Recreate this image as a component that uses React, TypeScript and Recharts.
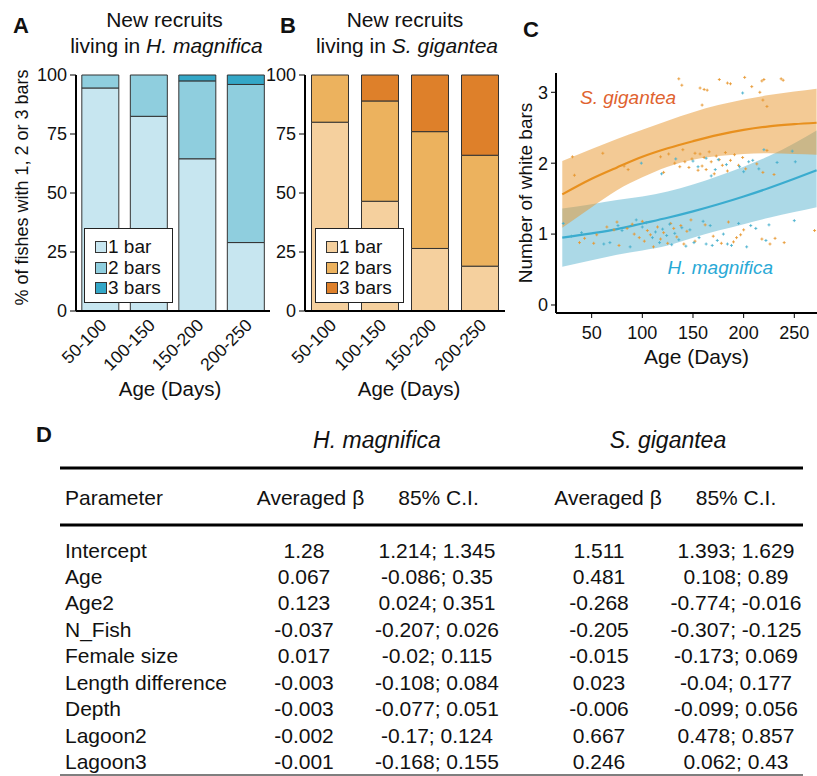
import React from "react";
import {
  BarChart,
  Bar,
  XAxis,
  YAxis,
  Legend,
  ComposedChart,
  Area,
  Line,
  Scatter,
} from "recharts";

// panels A and B: share of recruits with 1, 2 or 3 bars per age group
const ageGroups = ["50-100", "100-150", "150-200", "200-250"];
const hmOneBar = [94.5, 82.5, 64.5, 29];
const hmTwoBars = [5.5, 17.5, 33, 67];
const hmThreeBars = [0, 0, 2.5, 4];
const sgOneBar = [80, 46.5, 26.5, 19];
const sgTwoBars = [20, 42.5, 49.5, 47];
const sgThreeBars = [0, 11, 24, 34];
const percentTicks = [0, 25, 50, 75, 100];
const barLabels = ["1 bar", "2 bars", "3 bars"];

// panel C: fitted curves with 85% bands
const curveDays = [21, 50, 75, 100, 125, 150, 175, 200, 225, 250, 272];
const hmFit = [0.95, 1.01, 1.07, 1.15, 1.23, 1.32, 1.42, 1.53, 1.65, 1.78, 1.9];
const hmLower = [0.54, 0.63, 0.71, 0.77, 0.84, 0.95, 1.05, 1.14, 1.23, 1.31, 1.38];
const hmUpper = [1.36, 1.42, 1.48, 1.53, 1.6, 1.7, 1.82, 1.95, 2.1, 2.28, 2.46];
const sgFit = [1.56, 1.78, 1.94, 2.09, 2.21, 2.31, 2.4, 2.47, 2.52, 2.55, 2.57];
const sgLower = [1.09, 1.38, 1.62, 1.8, 1.95, 2.05, 2.1, 2.13, 2.14, 2.13, 2.12];
const sgUpper = [2.03, 2.2, 2.34, 2.47, 2.6, 2.72, 2.82, 2.9, 2.96, 3.01, 3.05];
const ageTicks = [50, 100, 150, 200, 250];
const barCountTicks = [0, 1, 2, 3];

// jittered observations [age, number of bars]
const sgPoints = [
  [136, 3.19], [139, 3.1], [157, 3.06], [161, 3.04], [164, 3.03], [176, 3.18],
  [184, 3.13], [187, 3.12], [201, 3.21], [208, 3.08], [216, 3.0], [218, 3.16],
  [220, 3.18], [237, 3.19], [239, 3.17], [219, 2.89], [223, 2.8], [159, 2.82],
  [31, 2.09], [33, 1.83], [61, 2.14], [82, 1.96], [86, 1.91], [118, 2.09],
  [121, 1.87], [126, 2.13], [132, 2.0], [137, 1.95], [140, 2.19], [142, 2.02],
  [146, 1.94], [149, 2.06], [152, 2.14], [155, 1.9], [157, 2.13], [159, 1.96],
  [161, 2.08], [163, 1.91], [166, 2.16], [168, 2.02], [171, 1.85], [173, 2.1],
  [176, 2.05], [179, 1.97], [182, 2.15], [184, 1.89], [187, 2.04], [191, 2.12],
  [195, 1.97], [199, 2.08], [202, 1.92], [213, 1.99], [219, 1.87], [223, 2.18],
  [230, 1.84],
  [38, 0.88], [43, 0.94], [52, 0.87], [55, 0.99], [65, 1.1], [72, 1.06],
  [75, 1.17], [77, 0.84], [85, 1.08], [90, 1.14], [92, 1.0], [97, 0.95],
  [100, 1.18], [102, 0.9], [105, 1.05], [108, 0.99], [111, 0.82], [115, 1.1],
  [118, 0.93], [121, 1.02], [125, 0.87], [128, 1.15], [131, 1.08], [134, 0.96],
  [138, 1.12], [141, 0.86], [144, 1.04], [148, 1.2], [152, 0.9], [162, 1.13],
  [170, 0.97], [178, 0.87], [185, 1.17], [190, 0.89], [193, 0.95], [197, 0.99],
  [200, 1.06], [218, 0.93], [226, 0.86], [231, 0.94], [240, 0.88], [270, 1.05],
];
const hmPoints = [
  [199, 2.99],
  [99, 2.0], [119, 1.85], [133, 2.06], [150, 2.03], [155, 1.95], [163, 2.07],
  [168, 1.82], [172, 1.91], [175, 2.05], [183, 1.98], [196, 1.95], [200, 1.88],
  [205, 2.02], [209, 2.04], [215, 1.92], [220, 2.19], [233, 2.01], [248, 2.17],
  [251, 2.02],
  [22, 1.15], [30, 0.97], [40, 1.02], [62, 0.86], [68, 0.88], [76, 1.12],
  [80, 1.05], [88, 0.82], [94, 1.2], [100, 1.1], [104, 1.16], [110, 0.95],
  [113, 1.03], [117, 0.88], [120, 1.07], [124, 0.98], [127, 1.14], [129, 0.85],
  [132, 1.01], [136, 0.92], [139, 1.09], [143, 0.83], [147, 1.06], [151, 0.88],
  [156, 0.95], [160, 1.18], [163, 0.86], [167, 1.12], [169, 0.84], [174, 0.91],
  [180, 1.0], [184, 0.86], [188, 0.84], [195, 1.15], [203, 0.82], [207, 1.12],
  [212, 1.08], [222, 0.91], [225, 1.13], [250, 1.19],
];

// panel D: model-averaged coefficients
const parameters = [
  "Intercept", "Age", "Age2", "N_Fish", "Female size",
  "Length difference", "Depth", "Lagoon2", "Lagoon3",
];
const hmBeta = ["1.28", "0.067", "0.123", "-0.037", "0.017", "-0.003", "-0.003", "-0.002", "-0.001"];
const hmCI = [
  "1.214; 1.345", "-0.086; 0.35", "0.024; 0.351", "-0.207; 0.026", "-0.02; 0.115",
  "-0.108; 0.084", "-0.077; 0.051", "-0.17; 0.124", "-0.168; 0.155",
];
const sgBeta = ["1.511", "0.481", "-0.268", "-0.205", "-0.015", "0.023", "-0.006", "0.667", "0.246"];
const sgCI = [
  "1.393; 1.629", "0.108; 0.89", "-0.774; -0.016", "-0.307; -0.125", "-0.173; 0.069",
  "-0.04; 0.177", "-0.099; 0.056", "0.478; 0.857", "0.062; 0.43",
];

const FONT = '"Liberation Sans", Arial, Helvetica, sans-serif';
const blues = ["#c7e6f0", "#8fcede", "#34a7c7"];
const oranges = ["#f5d09e", "#ecb25e", "#de802a"];

function LegendBox({ colors }: { colors: string[] }) {
  return (
    <div
      style={{
        width: 89,
        height: 75,
        boxSizing: "border-box",
        border: "1px solid #222",
        background: "#fff",
        padding: "8px 0 0 10px",
        fontSize: 19,
        color: "#111",
        textAlign: "left",
      }}
    >
      {barLabels.map((l, i) => (
        <div key={l} style={{ display: "flex", alignItems: "center", height: 20.5 }}>
          <span
            style={{
              display: "inline-block",
              width: 12,
              height: 12,
              boxSizing: "border-box",
              background: colors[i],
              border: "1px solid #333",
              marginRight: 1,
            }}
          />
          {l}
        </div>
      ))}
    </div>
  );
}

function StackedPanel({
  left,
  yWidth,
  plotWidth,
  gap,
  ones,
  twos,
  threes,
  colors,
  legendLeft,
}: {
  left: number;
  yWidth: number;
  plotWidth: number;
  gap: string;
  ones: number[];
  twos: number[];
  threes: number[];
  colors: string[];
  legendLeft: number;
}) {
  const data = ageGroups.map((g, i) => ({
    group: g,
    one: ones[i],
    two: twos[i],
    three: threes[i],
  }));
  const top = 60;
  return (
    <div style={{ position: "absolute", left, top }}>
      <BarChart
        width={yWidth + plotWidth}
        height={331}
        data={data}
        margin={{ top: 15, right: 0, left: 0, bottom: 0 }}
        barCategoryGap={gap}
      >
        <YAxis
          width={yWidth}
          domain={[0, 100]}
          ticks={percentTicks}
          tick={{ fontSize: 18, fill: "#111" }}
          axisLine={{ stroke: "#000", strokeWidth: 2 }}
          tickLine={{ stroke: "#000" }}
          tickSize={6}
          tickMargin={3}
        />
        <XAxis
          dataKey="group"
          height={80}
          tick={{ angle: -45, textAnchor: "end", fontSize: 17.5, fill: "#111", dx: -1.5, dy: 6.5 }}
          tickLine={false}
          tickSize={0}
          tickMargin={0}
          interval={0}
          axisLine={{ stroke: "#000", strokeWidth: 2 }}
        />
        <Legend
          verticalAlign="middle"
          align="center"
          content={() => <LegendBox colors={colors} />}
          wrapperStyle={{ left: legendLeft - left, top: 228 - top, width: 89 }}
        />
        <Bar dataKey="one" stackId="s" fill={colors[0]} stroke="#333" strokeWidth={1} isAnimationActive={false} />
        <Bar dataKey="two" stackId="s" fill={colors[1]} stroke="#333" strokeWidth={1} isAnimationActive={false} />
        <Bar dataKey="three" stackId="s" fill={colors[2]} stroke="#333" strokeWidth={1} isAnimationActive={false} />
      </BarChart>
    </div>
  );
}

function crossShape(color: string) {
  return (props: any) => {
    const { cx, cy } = props;
    return (
      <path
        d={`M${cx - 1.5},${cy}h3M${cx},${cy - 1.5}v3`}
        stroke={color}
        strokeWidth={1}
        strokeOpacity={0.85}
      />
    );
  };
}

function CurvePanel() {
  const data = curveDays.map((d, i) => ({
    day: d,
    hmFit: hmFit[i],
    hmBand: [hmLower[i], hmUpper[i]],
    sgFit: sgFit[i],
    sgBand: [sgLower[i], sgUpper[i]],
  }));
  const sgScatter = sgPoints.map(([day, bars]) => ({ day, bars }));
  const hmScatter = hmPoints.map(([day, bars]) => ({ day, bars }));
  return (
    <div style={{ position: "absolute", left: 500, top: 60 }}>
      <ComposedChart
        width={317}
        height={313}
        data={data}
        margin={{ top: 13, right: 0, left: 0, bottom: 0 }}
      >
        <XAxis
          type="number"
          dataKey="day"
          domain={[14.8, 272.4]}
          allowDataOverflow
          ticks={ageTicks}
          height={60}
          tick={{ fontSize: 18, fill: "#111" }}
          axisLine={{ stroke: "#000", strokeWidth: 2 }}
          tickLine={{ stroke: "#000" }}
          tickSize={5}
          tickMargin={8}
        />
        <YAxis
          type="number"
          width={56}
          domain={[-0.113, 3.272]}
          allowDataOverflow
          ticks={barCountTicks}
          tick={{ fontSize: 18, fill: "#111" }}
          axisLine={{ stroke: "#000", strokeWidth: 2 }}
          tickLine={{ stroke: "#000" }}
          tickSize={5}
          tickMargin={3}
        />
        <Area
          type="monotone"
          dataKey="hmBand"
          fill="#5ab4d0"
          fillOpacity={0.5}
          stroke="none"
          isAnimationActive={false}
        />
        <Area
          type="monotone"
          dataKey="sgBand"
          fill="#e8952c"
          fillOpacity={0.5}
          stroke="none"
          isAnimationActive={false}
        />
        <Scatter data={sgScatter} dataKey="bars" shape={crossShape("#e8962f")} isAnimationActive={false} />
        <Scatter data={hmScatter} dataKey="bars" shape={crossShape("#45afcd")} isAnimationActive={false} />
        <Line type="monotone" dataKey="hmFit" stroke="#3aaccf" strokeWidth={2.2} dot={false} isAnimationActive={false} />
        <Line type="monotone" dataKey="sgFit" stroke="#e8901e" strokeWidth={2.2} dot={false} isAnimationActive={false} />
      </ComposedChart>
    </div>
  );
}

function Annotations() {
  const rowY = (i: number) => 550 + i * 26.46;
  return (
    <svg
      width={817}
      height={776}
      style={{ position: "absolute", left: 0, top: 0 }}
      fontFamily={FONT}
      fill="#111"
    >
      {/* panel letters */}
      <text x={13} y={32.5} fontSize={22} fontWeight="bold">A</text>
      <text x={280} y={33} fontSize={22} fontWeight="bold">B</text>
      <text x={523} y={36.5} fontSize={22} fontWeight="bold">C</text>
      <text x={36} y={441.5} fontSize={22} fontWeight="bold">D</text>

      {/* titles */}
      <text x={164.5} y={26.5} fontSize={21} textAnchor="middle">New recruits</text>
      <text x={166.5} y={52.5} fontSize={21} textAnchor="middle">
        living in <tspan fontStyle="italic">H. magnifica</tspan>
      </text>
      <text x={405} y={26.5} fontSize={21} textAnchor="middle">New recruits</text>
      <text x={407} y={52.5} fontSize={21} textAnchor="middle">
        living in <tspan fontStyle="italic">S. gigantea</tspan>
      </text>

      {/* axis titles */}
      <text
        x={21.5}
        y={187.5}
        fontSize={18}
        textAnchor="middle"
        dominantBaseline="central"
        transform="rotate(-90, 21.5, 187.5)"
      >
        % of fishes with 1, 2 or 3 bars
      </text>
      <text x={170} y={396} fontSize={20.5} textAnchor="middle">Age (Days)</text>
      <text x={409} y={396} fontSize={20.5} textAnchor="middle">Age (Days)</text>
      <text x={696.5} y={364} fontSize={21} textAnchor="middle">Age (Days)</text>
      <text
        x={525}
        y={193}
        fontSize={19}
        textAnchor="middle"
        dominantBaseline="central"
        transform="rotate(-90, 525, 193)"
      >
        Number of white bars
      </text>

      {/* species labels in C */}
      <text x={580} y={97} fontSize={19} fontStyle="italic" fill="#e0622e" dominantBaseline="central">
        S. gigantea
      </text>
      <text x={667.5} y={267} fontSize={19} fontStyle="italic" fill="#29a9d6" dominantBaseline="central">
        H. magnifica
      </text>

      {/* table D */}
      <text x={377} y={440} fontSize={23} fontStyle="italic" textAnchor="middle" dominantBaseline="central">
        H. magnifica
      </text>
      <text x={668} y={440} fontSize={23} fontStyle="italic" textAnchor="middle" dominantBaseline="central">
        S. gigantea
      </text>
      <line x1={60} x2={803} y1={468} y2={468} stroke="#000" strokeWidth={3} />
      <line x1={60} x2={803} y1={525} y2={525} stroke="#000" strokeWidth={3} />
      <line x1={60} x2={803} y1={775} y2={775} stroke="#555" strokeWidth={1.5} />
      <g fontSize={21} dominantBaseline="central">
        <text x={65} y={497}>Parameter</text>
        <text x={310.5} y={497} textAnchor="middle">Averaged β</text>
        <text x={438.5} y={497} textAnchor="middle">85% C.I.</text>
        <text x={608} y={497} textAnchor="middle">Averaged β</text>
        <text x={736} y={497} textAnchor="middle">85% C.I.</text>
        {parameters.map((p, i) => (
          <g key={p}>
            <text x={65} y={rowY(i)}>{p}</text>
            <text x={304} y={rowY(i)} textAnchor="middle">{hmBeta[i]}</text>
            <text x={437} y={rowY(i)} textAnchor="middle">{hmCI[i]}</text>
            <text x={599} y={rowY(i)} textAnchor="middle">{sgBeta[i]}</text>
            <text x={736} y={rowY(i)} textAnchor="middle">{sgCI[i]}</text>
          </g>
        ))}
      </g>
    </svg>
  );
}

export default function App() {
  return (
    <div
      style={{
        position: "absolute",
        left: 0,
        top: 0,
        width: 817,
        height: 776,
        background: "#fff",
        fontFamily: FONT,
        overflow: "hidden",
      }}
    >
      <Annotations />
      <StackedPanel
        left={0}
        yWidth={76}
        plotWidth={194}
        gap="12%"
        ones={hmOneBar}
        twos={hmTwoBars}
        threes={hmThreeBars}
        colors={blues}
        legendLeft={84}
      />
      <StackedPanel
        left={230}
        yWidth={75}
        plotWidth={200}
        gap="13%"
        ones={sgOneBar}
        twos={sgTwoBars}
        threes={sgThreeBars}
        colors={oranges}
        legendLeft={315}
      />
      <CurvePanel />
    </div>
  );
}
